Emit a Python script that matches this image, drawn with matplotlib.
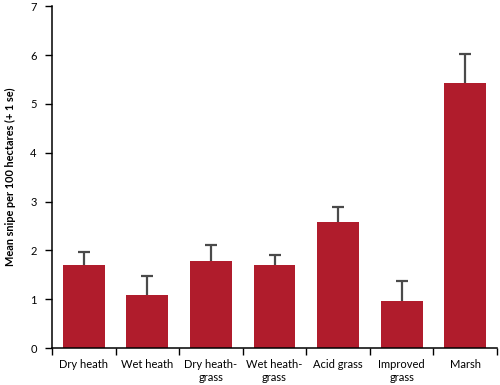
import matplotlib
matplotlib.use("Agg")
import matplotlib.pyplot as plt
import numpy as np

categories = ["Dry heath", "Wet heath", "Dry heath-\ngrass", "Wet heath-\ngrass", "Acid grass", "Improved\ngrass", "Marsh"]
means = [1.70, 1.09, 1.79, 1.70, 2.58, 0.97, 5.42]
upper = [1.97, 1.48, 2.11, 1.91, 2.88, 1.37, 6.02]
yticks = [0, 1, 2, 3, 4, 5, 6, 7]

errs = [u - m for u, m in zip(upper, means)]

plt.rcParams['font.family'] = ['Lato', 'DejaVu Sans']
fig = plt.figure(figsize=(5, 3.85), dpi=100)
ax = fig.add_axes([0.104, 0.096, 0.890, 0.888])
x = np.arange(len(categories))
ax.bar(x, means, width=0.66, color="#B01C2C", zorder=2)
eb = ax.errorbar(x, means, yerr=[np.zeros(len(errs)), errs], fmt="none",
                 ecolor="#4a4a4a", elinewidth=1.6, capsize=4, capthick=1.6, zorder=1)
caps = eb[1]
if len(caps) == 2:
    caps[0].set_visible(False)
ax.set_xlim(-0.5, len(categories) - 0.5)
ax.set_ylim(0, 7)
ax.set_yticks(yticks)
ax.set_yticklabels([str(t) for t in yticks], fontsize=8)
ax.set_xticks(x)
ax.set_xticklabels(categories, fontsize=8)
ax.tick_params(axis="x", which="major", length=0, pad=8)
ax.set_xticks(np.arange(-0.5, len(categories)), minor=True)
ax.tick_params(axis="x", which="minor", length=5, width=1, direction="out")
ax.tick_params(axis="y", length=5, width=1, direction="out", pad=6)
ax.spines["top"].set_visible(False)
ax.spines["right"].set_visible(False)
for s in ["left", "bottom"]:
    ax.spines[s].set_linewidth(1.1)
ax.set_ylabel("Mean snipe per 100 hectares (+ 1 se)", fontsize=7.9, fontweight="bold", labelpad=10)
fig.savefig("out.png", dpi=100)
